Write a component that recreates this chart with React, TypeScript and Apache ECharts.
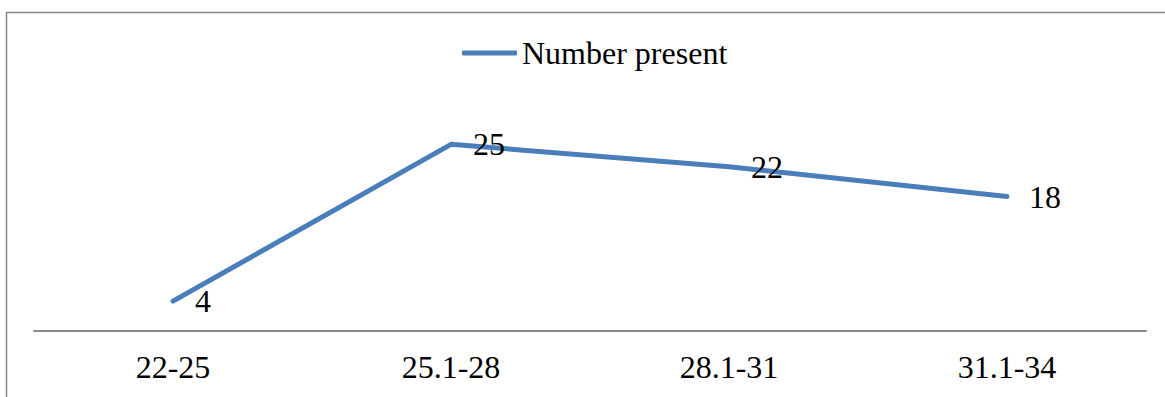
import React, { useEffect, useRef } from "react";
import * as echarts from "echarts";

const categories = ["22-25", "25.1-28", "28.1-31", "31.1-34"];
const seriesName = "Number present";
const values = [4, 25, 22, 18];

const FONT = "'Liberation Serif', 'Times New Roman', serif";

export default function App() {
  const ref = useRef<HTMLDivElement>(null);
  useEffect(() => {
    if (!ref.current) return;
    const chart = echarts.init(ref.current, null, { renderer: "svg" });
    chart.setOption({
      animation: false,
      backgroundColor: "#ffffff",
      graphic: [
        {
          type: "polyline",
          shape: { points: [[6.5, 397], [6.5, 12.5], [1165, 12.5]] },
          style: { stroke: "#878787", lineWidth: 1.5, fill: "none" },
          silent: true,
        },
      ],
      legend: {
        left: 457,
        top: 32,
        itemWidth: 55,
        itemHeight: 5,
        itemGap: 10,
        textStyle: { fontFamily: FONT, fontSize: 32, color: "#000" },
        data: [{ name: seriesName, icon: "roundRect" }],
      },
      grid: { left: 34, right: 19, top: 107, height: 224 },
      xAxis: {
        type: "category",
        data: categories,
        boundaryGap: true,
        axisLine: { lineStyle: { color: "#898989", width: 2 } },
        axisTick: { show: false },
        axisLabel: { fontFamily: FONT, fontSize: 32, color: "#000", margin: 20 },
      },
      yAxis: {
        type: "value",
        min: 0,
        max: 30,
        show: false,
        splitLine: { show: false },
      },
      series: [
        {
          name: seriesName,
          type: "line",
          data: values,
          symbol: "circle",
          symbolSize: 0.01,
          showSymbol: true,
          lineStyle: { color: "#4A7EBB", width: 5, cap: "round", join: "round" },
          itemStyle: { color: "#4A7EBB" },
          label: {
            show: true,
            position: "right",
            distance: 22,
            fontFamily: FONT,
            fontSize: 32,
            color: "#000",
          },
        },
      ],
    });
    return () => chart.dispose();
  }, []);
  return (
    <div
      ref={ref}
      style={{ position: "fixed", left: 0, top: 0, width: 1165, height: 397 }}
    />
  );
}
